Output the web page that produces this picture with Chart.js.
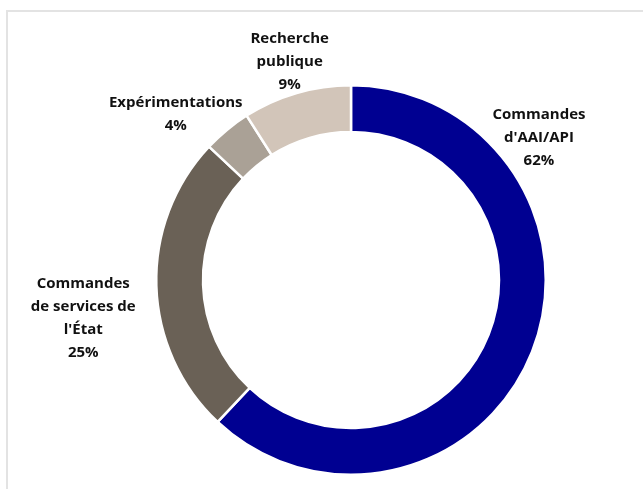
<!DOCTYPE html>
<html><head><meta charset="utf-8">
<script src="https://cdn.jsdelivr.net/npm/chart.js@4/dist/chart.umd.min.js"></script>
<style>
html,body{margin:0;padding:0;background:#fff;}
#frame{position:absolute;left:6px;top:10px;width:700px;height:600px;border-left:2px solid #e3e3e3;border-top:2px solid #e3e3e3;}
#wrap{position:absolute;left:0;top:0;width:643px;height:489px;}
</style></head>
<body>
<div id="frame"></div>
<div id="wrap"><canvas id="c" width="643" height="489"></canvas></div>
<script>
const categories = ["Commandes d'AAI/API", "Commandes de services de l'État", "Expérimentations", "Recherche publique"];
const labelLines = [["Commandes", "d'AAI/API"], ["Commandes", "de services de", "l'État"], ["Expérimentations"], ["Recherche", "publique"]];
const values = [62, 25, 4, 9];
const colors = ["#000091", "#6a6156", "#aaa196", "#d2c5b9"];
// label anchor offsets relative to chart centre, in units of outer radius
const labelOffsets = [[0.965, -0.73], [-1.375, 0.195], [-0.9, -0.85], [-0.315, -1.12]];

const labelPlugin = {
  id: 'outLabels',
  afterDatasetsDraw(chart) {
    const ctx = chart.ctx;
    const meta = chart.getDatasetMeta(0);
    const arc0 = meta.data[0];
    const cx = arc0.x, cy = arc0.y, R = arc0.outerRadius;
    ctx.save();
    ctx.font = "bold 15px 'Open Sans'";
    ctx.fillStyle = "#111111";
    ctx.textAlign = "center";
    ctx.textBaseline = "middle";
    const lh = 23;
    values.forEach((v, i) => {
      const lines = labelLines[i].concat([v + "%"]);
      const x = cx + labelOffsets[i][0] * R;
      const y = cy + labelOffsets[i][1] * R;
      const y0 = y - (lines.length - 1) * lh / 2;
      lines.forEach((t, k) => ctx.fillText(t, x, y0 + k * lh));
    });
    ctx.restore();
  }
};

new Chart(document.getElementById('c'), {
  type: 'doughnut',
  data: {
    labels: categories,
    datasets: [{
      data: values,
      backgroundColor: colors,
      borderColor: '#ffffff',
      borderWidth: 2.5,
      hoverOffset: 0
    }]
  },
  options: {
    responsive: false,
    animation: false,
    cutout: '76%',
    layout: { padding: { left: 155, right: 96, top: 84, bottom: 13 } },
    plugins: { legend: { display: false }, tooltip: { enabled: false } }
  },
  plugins: [labelPlugin]
});
</script>
</body></html>
